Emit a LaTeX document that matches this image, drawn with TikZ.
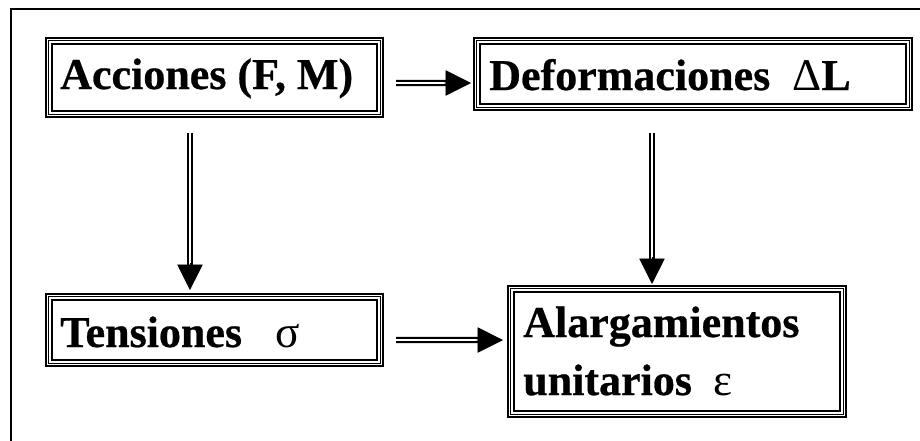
\documentclass[tikz,border=0pt]{standalone}
\usepackage{fontspec}
\setmainfont{Liberation Serif}[BoldFeatures={FakeBold=0.6}]
\usetikzlibrary{arrows.meta,calc}
\tikzset{
  tbox/.style={draw, line width=0.9pt, inner sep=0pt, outer sep=0pt},
  lbl/.style={anchor=base west, inner sep=0pt, font=\fontsize{33}{38}\selectfont\bfseries},
  shaft/.style={draw=black, line width=1.7pt, double=white, double distance=1.2pt},
  headtip/.style={line width=0.4pt, -{Triangle[length=19pt,width=19pt]}},
  frame/.style={line width=1.5pt}
}
\newcommand{\tribox}[1]{%
  \draw[line width=0.8pt] ([shift={(2.1pt,-2.1pt)}]#1.north west) rectangle ([shift={(-2.1pt,2.1pt)}]#1.south east);
  \draw[line width=1.1pt] ([shift={(4.6pt,-4.6pt)}]#1.north west) rectangle ([shift={(-4.6pt,4.6pt)}]#1.south east);}
\newcommand{\dblarrow}[2]{%
  \draw[shaft, shorten >=17pt] (#1) -- (#2);
  \draw[headtip] ($(#2)!20pt!(#1)$) -- (#2);}
\newcommand{\gr}[1]{{\mdseries\fontsize{34}{38}\selectfont #1}}
\begin{document}
\begin{tikzpicture}[x=0.75pt,y=-0.75pt]
\useasboundingbox (0,0) rectangle (920,440);
\draw[frame] (11,450) -- (11,9) -- (930,9);

% boxes
\node[tbox, minimum width=337*0.75pt, minimum height=79*0.75pt] (acc) at (214.5,77.5) {};
\node[tbox, minimum width=438*0.75pt, minimum height=72*0.75pt] (def) at (693,74) {};
\node[tbox, minimum width=337*0.75pt, minimum height=72*0.75pt] (ten) at (214.5,330) {};
\node[tbox, minimum width=338*0.75pt, minimum height=131*0.75pt] (ala) at (677,351.5) {};
\tribox{acc}\tribox{def}\tribox{ten}\tribox{ala}

% labels
\node[lbl] (acct) at (60,89) {Acciones (F, M)};
\node[lbl] (deft) at (489,90) {Deformaciones\ \ \gr{Δ}L};
\node[lbl] (tent) at (60,347) {Tensiones\ \ \ \gr{σ}};
\node[lbl] (ala1) at (523,337) {Alargamientos};
\node[lbl] (ala2) at (523,395) {unitarios\ \ \gr{ε}};

% arrow end points
\coordinate (a1s) at ([shift={(9.75pt,-4.1pt)}]acc.east);
\coordinate (a1e) at ([shift={(-2.25pt,-6.75pt)}]def.west);
\coordinate (a2s) at ([shift={(-18.4pt,-12pt)}]acc.south);
\coordinate (a2e) at ([shift={(-18.4pt,3pt)}]ten.north);
\coordinate (a3s) at ([shift={(-30.75pt,-17.25pt)}]def.south);
\coordinate (a3e) at ([shift={(-18.75pt,1.5pt)}]ala.north);
\coordinate (a4s) at ([shift={(9.75pt,-7.5pt)}]ten.east);
\coordinate (a4e) at ([shift={(-3.75pt,8.6pt)}]ala.west);

\dblarrow{a1s}{a1e}
\dblarrow{a2s}{a2e}
\dblarrow{a3s}{a3e}
\dblarrow{a4s}{a4e}
\end{tikzpicture}
\end{document}
